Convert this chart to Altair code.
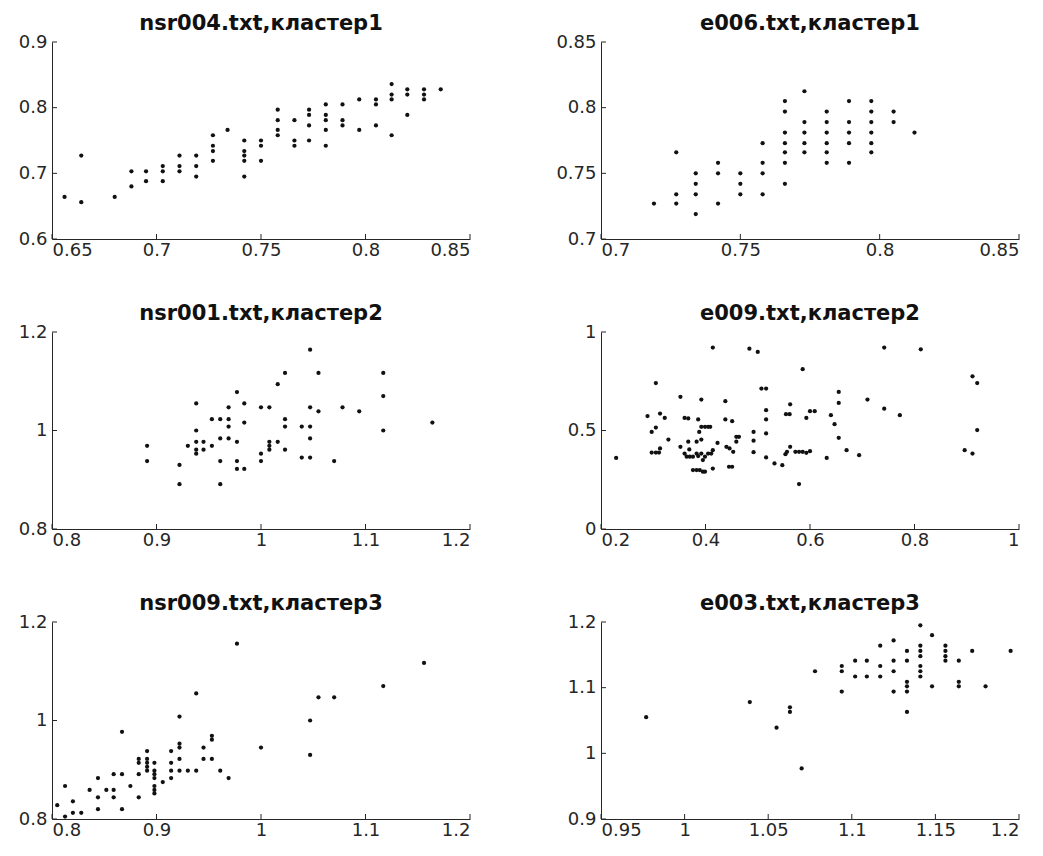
import altair as alt
import pandas as pd

# ---- data (RR interval pairs) ----
nsr004_x = [0.656, 0.664, 0.664, 0.680, 0.688, 0.688, 0.695, 0.695,
            0.703, 0.703, 0.703, 0.711, 0.711, 0.711, 0.719, 0.719, 0.719,
            0.727, 0.727, 0.727, 0.727, 0.734, 0.742, 0.742, 0.742, 0.742, 0.742,
            0.750, 0.750, 0.750, 0.758, 0.758, 0.758, 0.758, 0.766, 0.766, 0.766,
            0.773, 0.773, 0.773, 0.773, 0.781, 0.781, 0.781, 0.781, 0.781,
            0.789, 0.789, 0.789, 0.797, 0.797, 0.805, 0.805, 0.805,
            0.8125, 0.8125, 0.8125, 0.8125, 0.820, 0.820, 0.820, 0.828, 0.828, 0.828, 0.836]
nsr004_y = [0.664, 0.727, 0.656, 0.664, 0.703, 0.680, 0.703, 0.688,
            0.711, 0.703, 0.688, 0.727, 0.711, 0.703, 0.727, 0.711, 0.695,
            0.758, 0.742, 0.734, 0.719, 0.766, 0.750, 0.734, 0.727, 0.719, 0.695,
            0.750, 0.742, 0.719, 0.797, 0.781, 0.766, 0.758, 0.781, 0.750, 0.742,
            0.797, 0.789, 0.773, 0.750, 0.805, 0.789, 0.781, 0.766, 0.742,
            0.805, 0.781, 0.773, 0.8125, 0.766, 0.8125, 0.805, 0.773,
            0.836, 0.820, 0.8125, 0.758, 0.828, 0.820, 0.789, 0.828, 0.820, 0.8125, 0.828]

e006_x = [0.719, 0.727, 0.727, 0.727, 0.734, 0.734, 0.734, 0.734,
          0.742, 0.742, 0.742, 0.750, 0.750, 0.750, 0.758, 0.758, 0.758, 0.758,
          0.766, 0.766, 0.766, 0.766, 0.766, 0.766, 0.766,
          0.773, 0.773, 0.773, 0.773, 0.773,
          0.781, 0.781, 0.781, 0.781, 0.781, 0.781,
          0.789, 0.789, 0.789, 0.789, 0.789,
          0.797, 0.797, 0.797, 0.797, 0.797, 0.797, 0.805, 0.805, 0.8125]
e006_y = [0.727, 0.766, 0.734, 0.727, 0.750, 0.742, 0.734, 0.719,
          0.758, 0.750, 0.727, 0.750, 0.742, 0.734, 0.773, 0.758, 0.750, 0.734,
          0.805, 0.797, 0.781, 0.773, 0.766, 0.758, 0.742,
          0.8125, 0.789, 0.781, 0.773, 0.766,
          0.797, 0.789, 0.781, 0.773, 0.766, 0.758,
          0.805, 0.789, 0.781, 0.773, 0.758,
          0.805, 0.797, 0.789, 0.781, 0.773, 0.766, 0.797, 0.789, 0.781]

nsr001_x = [0.891, 0.891, 0.922, 0.922, 0.930, 0.938, 0.938, 0.938, 0.938, 0.938,
            0.945, 0.945, 0.953, 0.953, 0.961, 0.961, 0.961, 0.961,
            0.969, 0.969, 0.969, 0.969, 0.977, 0.977, 0.977, 0.977,
            0.984, 0.984, 0.984, 1.0, 1.0, 1.0, 1.008, 1.008, 1.008, 1.008,
            1.016, 1.016, 1.023, 1.023, 1.023, 1.023, 1.039, 1.039,
            1.047, 1.047, 1.047, 1.047, 1.047, 1.055, 1.055, 1.070, 1.078, 1.094,
            1.117, 1.117, 1.117, 1.164]
nsr001_y = [0.969, 0.938, 0.930, 0.891, 0.969, 1.055, 1.0, 0.977, 0.961, 0.953,
            0.977, 0.961, 1.023, 0.969, 1.023, 0.984, 0.938, 0.891,
            1.047, 1.023, 1.008, 0.984, 1.078, 0.977, 0.938, 0.922,
            1.055, 1.016, 0.922, 1.047, 0.953, 0.938, 1.047, 0.977, 0.969, 0.961,
            1.094, 0.977, 1.117, 1.023, 1.008, 0.961, 1.008, 0.945,
            1.164, 1.047, 1.008, 0.984, 0.945, 1.117, 1.039, 0.938, 1.047, 1.039,
            1.117, 1.070, 1.0, 1.016]

e009_x = [0.229, 0.289, 0.297, 0.305, 0.305, 0.297, 0.305, 0.311, 0.313, 0.313,
          0.322, 0.329, 0.352, 0.352, 0.360, 0.367, 0.367, 0.369, 0.360, 0.364,
          0.370, 0.376, 0.383, 0.386, 0.392, 0.399, 0.405, 0.411, 0.414, 0.383,
          0.392, 0.388, 0.392, 0.399, 0.405, 0.409, 0.386, 0.376, 0.383, 0.389,
          0.395, 0.399, 0.414, 0.392, 0.414, 0.395, 0.423, 0.438, 0.438, 0.440,
          0.446, 0.451, 0.453, 0.459, 0.445, 0.451, 0.459, 0.464, 0.484, 0.492,
          0.492, 0.492, 0.500, 0.507, 0.516, 0.516, 0.516, 0.516, 0.516, 0.532,
          0.547, 0.553, 0.556, 0.562, 0.554, 0.561, 0.562, 0.579, 0.586, 0.572,
          0.579, 0.586, 0.593, 0.600, 0.593, 0.600, 0.609, 0.632, 0.640, 0.647,
          0.655, 0.655, 0.655, 0.670, 0.694, 0.710, 0.742, 0.742, 0.772, 0.812,
          0.896, 0.911, 0.911, 0.920, 0.920]
e009_y = [0.361, 0.573, 0.493, 0.741, 0.515, 0.388, 0.388, 0.388, 0.586, 0.409,
          0.564, 0.454, 0.671, 0.417, 0.564, 0.561, 0.443, 0.404, 0.383, 0.367,
          0.367, 0.367, 0.383, 0.370, 0.383, 0.367, 0.383, 0.383, 0.400, 0.443,
          0.454, 0.493, 0.519, 0.519, 0.519, 0.519, 0.556, 0.299, 0.299, 0.299,
          0.291, 0.291, 0.307, 0.657, 0.921, 0.350, 0.437, 0.649, 0.556, 0.417,
          0.409, 0.547, 0.392, 0.443, 0.316, 0.316, 0.468, 0.468, 0.915, 0.493,
          0.448, 0.390, 0.899, 0.713, 0.713, 0.603, 0.556, 0.485, 0.363, 0.333,
          0.324, 0.380, 0.392, 0.417, 0.583, 0.583, 0.633, 0.228, 0.811, 0.392,
          0.392, 0.392, 0.387, 0.395, 0.564, 0.598, 0.598, 0.361, 0.578, 0.532,
          0.696, 0.640, 0.463, 0.400, 0.375, 0.657, 0.921, 0.611, 0.578, 0.912,
          0.400, 0.775, 0.383, 0.741, 0.502]

nsr009_x = [0.805, 0.8125, 0.8125, 0.820, 0.820, 0.828, 0.836, 0.844, 0.844, 0.844,
            0.852, 0.859, 0.859, 0.859, 0.867, 0.867, 0.867, 0.875,
            0.883, 0.883, 0.883, 0.883, 0.891, 0.891, 0.891, 0.891, 0.891,
            0.898, 0.898, 0.898, 0.898, 0.898, 0.898, 0.898, 0.906,
            0.914, 0.914, 0.914, 0.914, 0.922, 0.922, 0.922, 0.922, 0.922,
            0.930, 0.938, 0.938, 0.945, 0.945, 0.953, 0.953, 0.953,
            0.961, 0.969, 0.977, 1.0, 1.047, 1.047, 1.055, 1.070, 1.117, 1.156]
nsr009_y = [0.828, 0.867, 0.805, 0.836, 0.8125, 0.8125, 0.859, 0.883, 0.844, 0.820,
            0.859, 0.891, 0.859, 0.844, 0.977, 0.891, 0.820, 0.867,
            0.922, 0.914, 0.891, 0.844, 0.938, 0.922, 0.914, 0.906, 0.898,
            0.914, 0.898, 0.891, 0.883, 0.867, 0.859, 0.852, 0.875,
            0.938, 0.914, 0.898, 0.883, 1.008, 0.953, 0.945, 0.922, 0.898,
            0.898, 1.055, 0.898, 0.945, 0.922, 0.969, 0.961, 0.922,
            0.898, 0.883, 1.156, 0.945, 1.0, 0.930, 1.047, 1.047, 1.070, 1.117]

e003_x = [0.977, 1.039, 1.055, 1.063, 1.063, 1.070, 1.078, 1.094, 1.094, 1.094,
          1.102, 1.102, 1.109, 1.109, 1.117, 1.117, 1.117,
          1.125, 1.125, 1.125, 1.125, 1.133, 1.133, 1.133, 1.133, 1.133, 1.133,
          1.141, 1.141, 1.141, 1.141, 1.141, 1.141, 1.141, 1.148, 1.148,
          1.156, 1.156, 1.156, 1.156, 1.164, 1.164, 1.164, 1.172, 1.180, 1.195]
e003_y = [1.055, 1.078, 1.039, 1.070, 1.063, 0.977, 1.125, 1.133, 1.125, 1.094,
          1.141, 1.117, 1.141, 1.117, 1.164, 1.133, 1.117,
          1.172, 1.141, 1.125, 1.094, 1.156, 1.141, 1.109, 1.102, 1.094, 1.063,
          1.195, 1.164, 1.156, 1.148, 1.133, 1.125, 1.117, 1.180, 1.102,
          1.164, 1.156, 1.148, 1.141, 1.141, 1.109, 1.102, 1.156, 1.102, 1.156]

titles = ["nsr004.txt,кластер1", "e006.txt,кластер1",
          "nsr001.txt,кластер2", "e009.txt,кластер2",
          "nsr009.txt,кластер3", "e003.txt,кластер3"]
x_domains = [[0.65, 0.85], [0.7, 0.85], [0.8, 1.2], [0.2, 1.0], [0.8, 1.2], [0.95, 1.2]]
y_domains = [[0.6, 0.9], [0.7, 0.85], [0.8, 1.2], [0.0, 1.0], [0.8, 1.2], [0.9, 1.2]]
x_ticks = [[0.65, 0.7, 0.75, 0.8, 0.85], [0.7, 0.75, 0.8, 0.85], [0.8, 0.9, 1.0, 1.1, 1.2],
           [0.2, 0.4, 0.6, 0.8, 1.0], [0.8, 0.9, 1.0, 1.1, 1.2], [0.95, 1.0, 1.05, 1.1, 1.15, 1.2]]
y_ticks = [[0.6, 0.7, 0.8, 0.9], [0.7, 0.75, 0.8, 0.85], [0.8, 1.0, 1.2],
           [0.0, 0.5, 1.0], [0.8, 1.0, 1.2], [0.9, 1.0, 1.1, 1.2]]
series = [(nsr004_x, nsr004_y), (e006_x, e006_y), (nsr001_x, nsr001_y),
          (e009_x, e009_y), (nsr009_x, nsr009_y), (e003_x, e003_y)]

W, H = 418, 197
AX = "#262626"
FONT = "DejaVu Sans"


def panel(i):
    xs, ys = series[i]
    df = pd.DataFrame({"x": xs, "y": ys})
    xs_ = alt.Scale(domain=x_domains[i], nice=False, zero=False)
    ys_ = alt.Scale(domain=y_domains[i], nice=False, zero=False)
    xaxis = alt.Axis(values=x_ticks[i], format="~g", ticks=False, grid=False, title=None,
                     labelPadding=2, domainColor=AX, labelColor=AX, labelFontSize=18,
                     labelFont=FONT, labelOverlap=False)
    yaxis = alt.Axis(values=y_ticks[i], format="~g", ticks=False, grid=False, title=None,
                     labelPadding=5, domainColor=AX, labelColor=AX, labelFontSize=18,
                     labelFont=FONT, labelOverlap=False)
    pts = alt.Chart(df).mark_circle(size=18, color="#111111", opacity=1).encode(
        x=alt.X("x:Q", scale=xs_, axis=xaxis),
        y=alt.Y("y:Q", scale=ys_, axis=yaxis),
    )
    xt = alt.Chart(pd.DataFrame({"x": x_ticks[i]})).mark_rule(color=AX, strokeWidth=1).encode(
        x=alt.X("x:Q", title=None), y=alt.value(H), y2=alt.value(H - 5))
    yt = alt.Chart(pd.DataFrame({"y": y_ticks[i]})).mark_rule(color=AX, strokeWidth=1).encode(
        y=alt.Y("y:Q", title=None), x=alt.value(0), x2=alt.value(5))
    return alt.layer(pts, xt, yt).properties(
        width=W, height=H,
        title=alt.TitleParams(titles[i], fontSize=21, fontWeight="bold", font=FONT,
                              color="#111111", offset=-1, anchor="middle"),
    )


chart = alt.concat(*[panel(i) for i in range(6)], columns=2,
                   spacing=alt.RowColnumber(row=93, column=131), bounds="flush").properties(
    padding={"left": 10, "top": 5, "right": 5, "bottom": 5},
    background="white",
).configure_view(strokeWidth=0).configure_axis(domainWidth=1)

chart.save("out.html", embed_options={"renderer": "svg", "actions": False})
